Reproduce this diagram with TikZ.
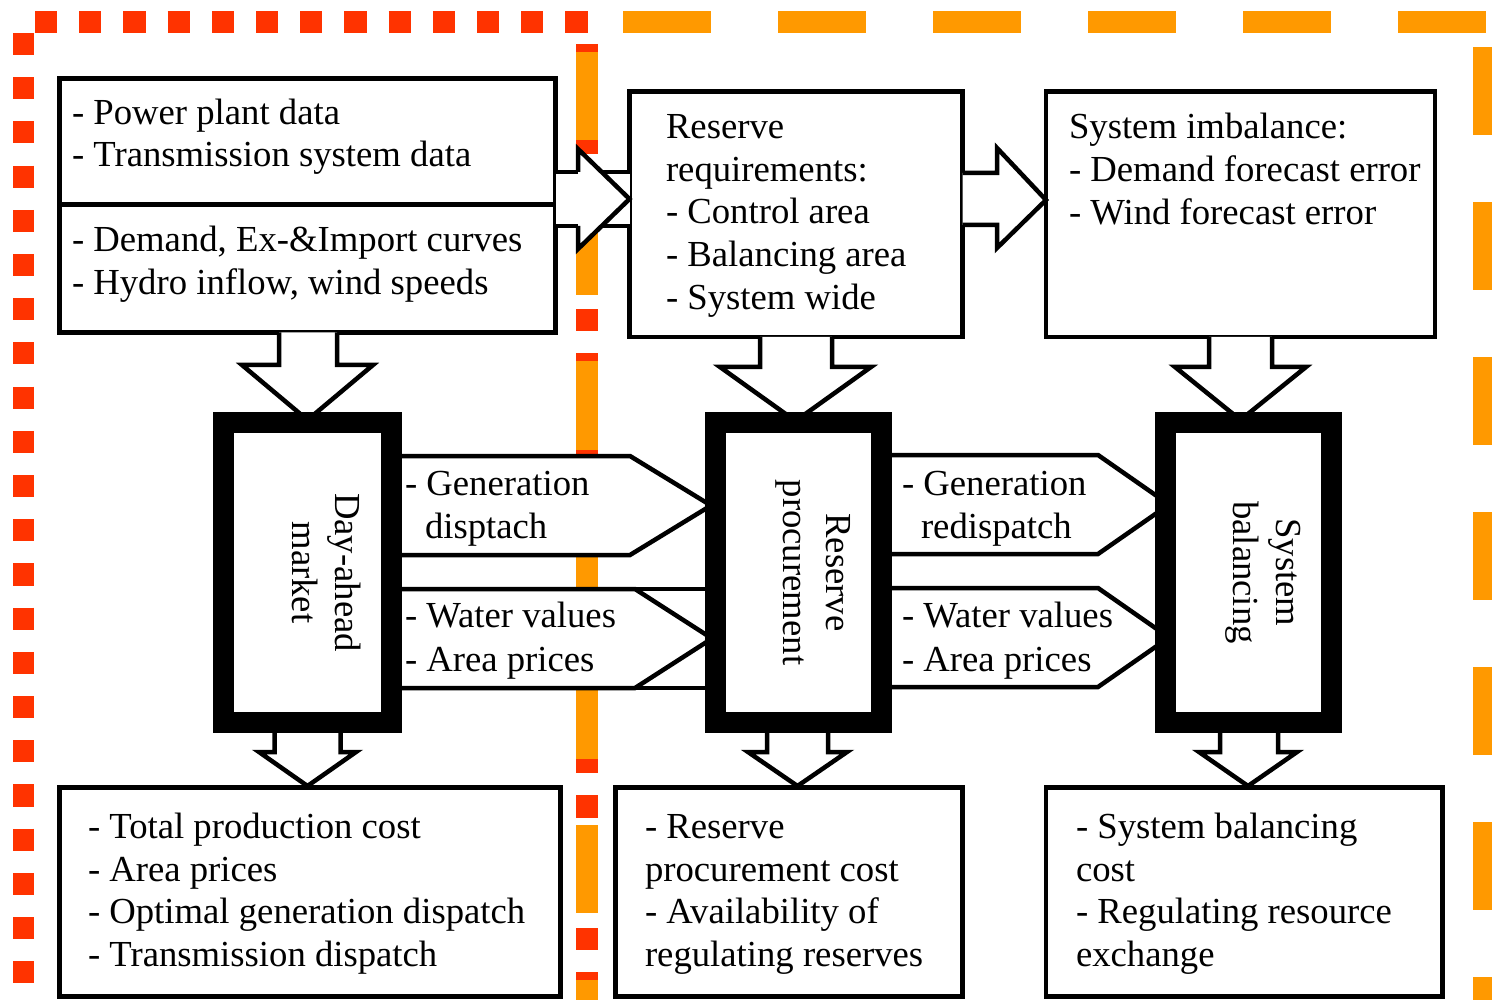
\documentclass[tikz,border=0pt]{standalone}
\usepackage{fontspec}
\setmainfont{Liberation Serif}
\definecolor{dred}{RGB}{255,51,0}
\definecolor{dorange}{RGB}{255,153,0}
\begin{document}
\begin{tikzpicture}[x=1pt,y=-1pt,
  box/.style={draw, line width=4.5pt, fill=white, rectangle, inner sep=0pt, outer sep=0pt},
  heavybox/.style={draw, line width=21pt, fill=white, rectangle, inner sep=0pt, outer sep=0pt},
  arrline/.style={draw, line width=4.5pt},
  blockarrow/.style={draw, fill=white, line width=4.5pt},
  txt/.style={anchor=base west, inner sep=0pt, outer sep=0pt, font=\fontsize{36.7}{43}\selectfont},
  vtxt/.style={anchor=base, rotate=-90, inner sep=0pt, outer sep=0pt, font=\fontsize{36.7}{43}\selectfont},
  reddots/.style={draw=dred, line width=21.5pt, dash pattern=on 22.1pt off 22.1pt},
  orangedashA/.style={draw=dorange, line width=21.5pt, dash pattern=on 88pt off 66.5pt},
  orangedashB/.style={draw=dorange, line width=21.5pt, dash pattern=on 88pt off 67pt},
]
\useasboundingbox (0,0) rectangle (1492,1000);
\clip (0,0) rectangle (1492,1000);
% ---- red dotted frame
\path[reddots] (23.5,33) -- (23.5,1020);
\path[reddots] (35,22) -- (588,22);
\path[reddots] (587,44) -- (587,1020);
% ---- orange dashed frame
\path[orangedashA] (587,52.5) -- (587,1020);
\path[orangedashB] (623,22) -- (1510,22);
\path[orangedashB] (1484,47) -- (1484,1020);

% ---- input boxes
\node[box, minimum width=496pt, minimum height=254pt] (b1) at (307.5,205.5) {};
\draw[arrline] (59.5,204.5) -- (555.5,204.5);
\node[box, minimum width=333pt, minimum height=245.5pt] (b2) at (796,214.25) {};
\node[box, minimum width=389pt, minimum height=245.5pt] (b3) at (1240.5,214.25) {};
% ---- output boxes
\node[box, minimum width=501pt, minimum height=209pt] (b7) at (310,892) {};
\node[box, minimum width=347pt, minimum height=209pt] (b8) at (789,892) {};
\node[box, minimum width=396.5pt, minimum height=209pt] (b9) at (1244.25,892) {};

% ---- right arrow b1 -> b2 (shaft running through)
\fill[white] (555.5,172) rectangle (629.5,226);
\draw[arrline] (555.5,172) -- (629.5,172);
\draw[arrline] (555.5,226) -- (629.5,226);
\fill[white] (578,149) -- (629.5,199) -- (578,249) -- cycle;
\draw[arrline] (578,172) -- (578,149) -- (629.5,199) -- (578,249) -- (578,226);
% ---- right arrow b2 -> b3
\path[blockarrow] (962.5,173) -- (997,173) -- (997,148) -- (1046,200) -- (997,248) -- (997,225) -- (962.5,225);

% ---- down arrows into the process blocks
\path[blockarrow] (279,332.5) -- (279,365) -- (242,365) -- (307.5,420) -- (373,365) -- (337,365) -- (337,332.5);
\path[blockarrow] (760,337) -- (760,367) -- (720,367) -- (795.5,421) -- (871,367) -- (832,367) -- (832,337);
\path[blockarrow] (1209,337) -- (1209,367) -- (1175,367) -- (1240.5,420) -- (1306,367) -- (1272,367) -- (1272,337);

% ---- pentagon arrows between the process blocks
\path[blockarrow] (391.5,456) -- (630,456) -- (711,505.5) -- (630,555) -- (391.5,555);
\fill[white] (391.5,589) rectangle (715.5,688);
\draw[arrline] (391.5,589) -- (715.5,589);
\draw[arrline] (391.5,688) -- (715.5,688);
\path[blockarrow] (391.5,589) -- (635,589) -- (712,638.5) -- (635,688) -- (391.5,688);
\path[blockarrow] (881.5,455) -- (1098,455) -- (1169,504.5) -- (1098,554) -- (881.5,554);
\path[blockarrow] (881.5,588) -- (1098,588) -- (1169,637.5) -- (1098,687) -- (881.5,687);

% ---- down arrows to the output boxes
\path[blockarrow] (274.5,733) -- (274.5,752) -- (259,752) -- (307.5,786) -- (356,752) -- (340.5,752) -- (340.5,733);
\path[blockarrow] (767,733) -- (767,752) -- (748,752) -- (797.5,786) -- (847,752) -- (828,752) -- (828,733);
\path[blockarrow] (1220,733) -- (1220,752) -- (1199,752) -- (1248,786) -- (1297,752) -- (1278,752) -- (1278,733);

% ---- process blocks
\node[heavybox, minimum width=168pt, minimum height=300pt] (m1) at (307.5,572.5) {};
\node[heavybox, minimum width=166pt, minimum height=300pt] (m2) at (798.5,572.5) {};
\node[heavybox, minimum width=166pt, minimum height=300pt] (m3) at (1248.5,572.5) {};
\node[vtxt] (m1a) at (335,572.5) {Day-ahead};
\node[vtxt] (m1b) at (292,572.5) {market};
\node[vtxt] (m2a) at (826,572.5) {Reserve};
\node[vtxt] (m2b) at (783,572.5) {procurement};
\node[vtxt] (m3a) at (1276,572.5) {System};
\node[vtxt] (m3b) at (1233,572.5) {balancing};

% ---- texts of input boxes
\node[txt] (t1a) at (72,125) {- Power plant data};
\node[txt] (t1b) at (72,167) {- Transmission system data};
\node[txt] (t1c) at (72,252) {- Demand, Ex-\&Import curves};
\node[txt] (t1d) at (72,295) {- Hydro inflow, wind speeds};
\node[txt] (t2a) at (666,139) {Reserve};
\node[txt] (t2b) at (666,182) {requirements:};
\node[txt] (t2c) at (666,224) {- Control area};
\node[txt] (t2d) at (666,267) {- Balancing area};
\node[txt] (t2e) at (666,310) {- System wide};
\node[txt] (t3a) at (1069,139) {System imbalance:};
\node[txt] (t3b) at (1069,182) {- Demand forecast error};
\node[txt] (t3c) at (1069,225) {- Wind forecast error};
% ---- texts of arrows
\node[txt] (p1a) at (405,495) {- Generation};
\node[txt] (p1b) at (425,538) {disptach};
\node[txt] (p2a) at (405,627) {- Water values};
\node[txt] (p2b) at (405,671) {- Area prices};
\node[txt] (p3a) at (902,495) {- Generation};
\node[txt] (p3b) at (921,538) {redispatch};
\node[txt] (p4a) at (902,627) {- Water values};
\node[txt] (p4b) at (902,671) {- Area prices};
% ---- texts of output boxes
\node[txt] (t7a) at (88,838) {- Total production cost};
\node[txt] (t7b) at (88,881) {- Area prices};
\node[txt] (t7c) at (88,923) {- Optimal generation dispatch};
\node[txt] (t7d) at (88,966) {- Transmission dispatch};
\node[txt] (t8a) at (645,838) {- Reserve};
\node[txt] (t8b) at (645,881) {procurement cost};
\node[txt] (t8c) at (645,923) {- Availability of};
\node[txt] (t8d) at (645,966) {regulating reserves};
\node[txt] (t9a) at (1076,838) {- System balancing};
\node[txt] (t9b) at (1076,881) {cost};
\node[txt] (t9c) at (1076,923) {- Regulating resource};
\node[txt] (t9d) at (1076,966) {exchange};
\end{tikzpicture}
\end{document}
